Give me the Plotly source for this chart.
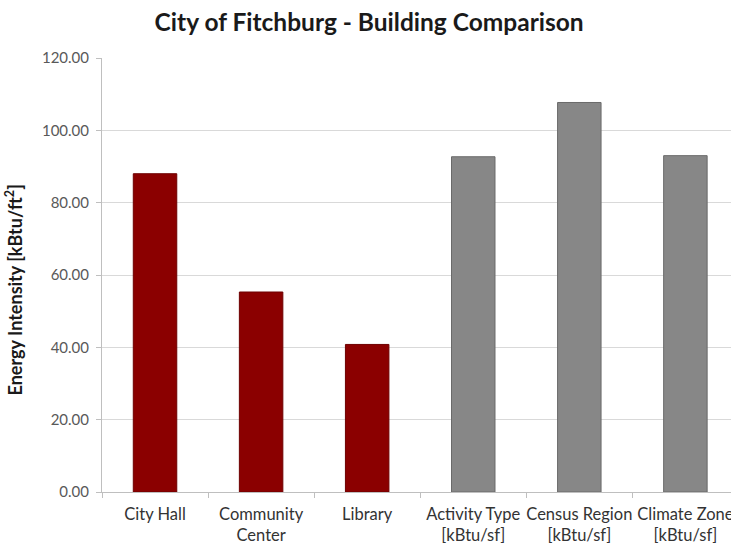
import plotly.graph_objects as go

categories = ["City Hall", "Community<br>Center", "Library",
              "Activity Type<br>[kBtu/sf]", "Census Region<br>[kBtu/sf]", "Climate Zone<br>[kBtu/sf]"]
values = [88.0, 55.3, 40.8, 92.7, 107.7, 93.0]
bar_colors = ["#8B0000", "#8B0000", "#8B0000", "#878787", "#878787", "#878787"]
line_colors = ["#6E0000", "#6E0000", "#6E0000", "#6A6A6A", "#6A6A6A", "#6A6A6A"]
y_ticks = [0, 20, 40, 60, 80, 100, 120]

fig = go.Figure()
fig.add_trace(go.Bar(
    x=categories, y=values, width=0.41,
    marker=dict(color=bar_colors, line=dict(color=line_colors, width=1)),
    showlegend=False,
))

fig.update_layout(
    width=731, height=543,
    margin=dict(l=102, r=0, t=58, b=51),
    paper_bgcolor="white", plot_bgcolor="white",
    font=dict(family="Lato", color="#333333"),
    title=dict(text="<b>City of Fitchburg - Building Comparison</b>",
               x=0.505, xanchor="center", y=0.958, yanchor="middle",
               font=dict(size=24.5, color="#1a1a1a", family="Lato")),
    annotations=[dict(
        text="<b>Energy Intensity [kBtu/ft<sup>2</sup>]</b>",
        textangle=-90, xref="paper", yref="paper",
        x=-0.1395, xanchor="center", y=0.465, yanchor="middle",
        showarrow=False, font=dict(size=18, color="#1a1a1a"),
    )],
)
fig.update_xaxes(
    range=[-0.5, 5.43], automargin=False, tickangle=0,
    showline=True, linecolor="#BFBFBF", linewidth=1,
    ticks="outside", tickson="boundaries", ticklen=5, tickcolor="#BFBFBF",
    tickfont=dict(size=16.5, color="#333333"),
    ticklabelstandoff=7,
    showgrid=False,
)
fig.update_yaxes(
    range=[0, 120], tickvals=y_ticks, tickformat=".2f", automargin=False,
    showline=True, linecolor="#BFBFBF", linewidth=1,
    ticks="outside", ticklen=5, tickcolor="#BFBFBF",
    tickfont=dict(size=15, color="#595959"),
    ticklabelstandoff=4,
    showgrid=True, gridcolor="#D9D9D9", gridwidth=1,
    zeroline=False,
)

fig.write_html("out.html", config={"displayModeBar": False},
               post_script="document.body.style.margin='0';document.body.style.overflow='hidden';")
